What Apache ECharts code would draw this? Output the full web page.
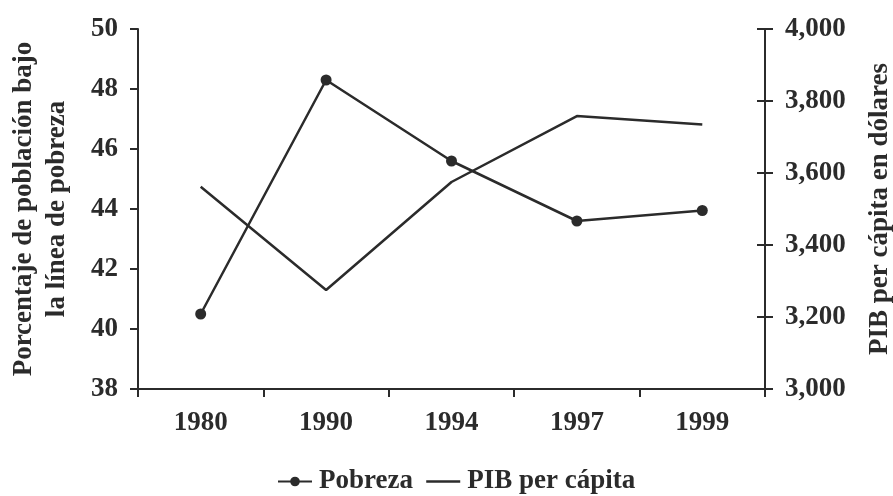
<!DOCTYPE html>
<html>
<head>
<meta charset="utf-8">
<script src="https://cdn.jsdelivr.net/npm/echarts@6/dist/echarts.min.js"></script>
<style>
  html, body { margin: 0; padding: 0; background: #fff; }
  #chart { width: 893px; height: 496px; }
</style>
</head>
<body>
<div id="chart"></div>
<script>
// Years on the horizontal axis
const years = ['1980', '1990', '1994', '1997', '1999'];
// Share of the population below the poverty line (%)
const pobreza = [40.5, 48.3, 45.6, 43.6, 43.95];
// GDP per capita in dollars
const pibPerCapita = [3562, 3275, 3575, 3758, 3735];

const ink = '#2b2b2b';
const font = 'Liberation Serif';
const textStyle = { fontFamily: font, fontWeight: 'bold', fontSize: 27, color: ink };

const chart = echarts.init(document.getElementById('chart'));
chart.setOption({
  animation: false,
  backgroundColor: '#fff',
  grid: { left: 138, right: 128, top: 29, bottom: 107, outerBoundsMode: 'none', containLabel: false },
  legend: {
    top: 463,
    left: 272,
    itemWidth: 34,
    itemHeight: 12,
    itemGap: 12,
    textStyle: Object.assign({}, textStyle, { padding: [0, 0, 0, 2] }),
    data: [
      { name: 'Pobreza' },
      {
        // plain line key: hide the marker drawn in the middle of the line
        name: 'PIB per cápita',
        itemStyle: { color: 'rgba(0,0,0,0)', borderWidth: 0, borderColor: 'rgba(0,0,0,0)' },
        lineStyle: { color: ink, width: 2.5 }
      }
    ]
  },
  xAxis: {
    type: 'category',
    data: years,
    boundaryGap: true,
    axisLine: { lineStyle: { color: ink, width: 2 } },
    axisTick: { show: true, length: 8, lineStyle: { color: ink, width: 2 } },
    axisLabel: Object.assign({}, textStyle, { margin: 21 })
  },
  yAxis: [
    {
      type: 'value',
      position: 'left',
      min: 38, max: 50, interval: 2,
      name: 'Porcentaje de población bajo\nla línea de pobreza',
      nameLocation: 'middle',
      nameRotate: 90,
      nameGap: 64,
      nameTextStyle: Object.assign({}, textStyle, { lineHeight: 33 }),
      axisLine: { show: true, lineStyle: { color: ink, width: 2 } },
      axisTick: { show: true, length: 8, lineStyle: { color: ink, width: 2 } },
      axisLabel: Object.assign({}, textStyle, { margin: 20 }),
      splitLine: { show: false }
    },
    {
      type: 'value',
      position: 'right',
      min: 3000, max: 4000, interval: 200,
      name: 'PIB per cápita en dólares',
      nameLocation: 'middle',
      nameRotate: 90,
      nameGap: 102,
      nameTextStyle: textStyle,
      axisLine: { show: true, lineStyle: { color: ink, width: 2 } },
      axisTick: { show: true, length: 8, lineStyle: { color: ink, width: 2 } },
      axisLabel: Object.assign({}, textStyle, {
        margin: 20,
        formatter: v => v.toLocaleString('en-US')
      }),
      splitLine: { show: false }
    },
    {
      // inner half of the right-hand ticks, so they cross the axis line
      type: 'value',
      position: 'right',
      min: 3000, max: 4000, interval: 200,
      axisLine: { show: false },
      axisTick: { show: true, inside: true, length: 8, lineStyle: { color: ink, width: 2 } },
      axisLabel: { show: false },
      splitLine: { show: false }
    }
  ],
  series: [
    {
      name: 'Pobreza',
      type: 'line',
      yAxisIndex: 0,
      data: pobreza,
      symbol: 'circle',
      symbolSize: 11,
      itemStyle: { color: ink },
      lineStyle: { color: ink, width: 2.5 }
    },
    {
      name: 'PIB per cápita',
      type: 'line',
      yAxisIndex: 1,
      data: pibPerCapita,
      symbol: 'none',
      itemStyle: { color: ink },
      lineStyle: { color: ink, width: 2.5 }
    }
  ]
});
</script>
</body>
</html>
